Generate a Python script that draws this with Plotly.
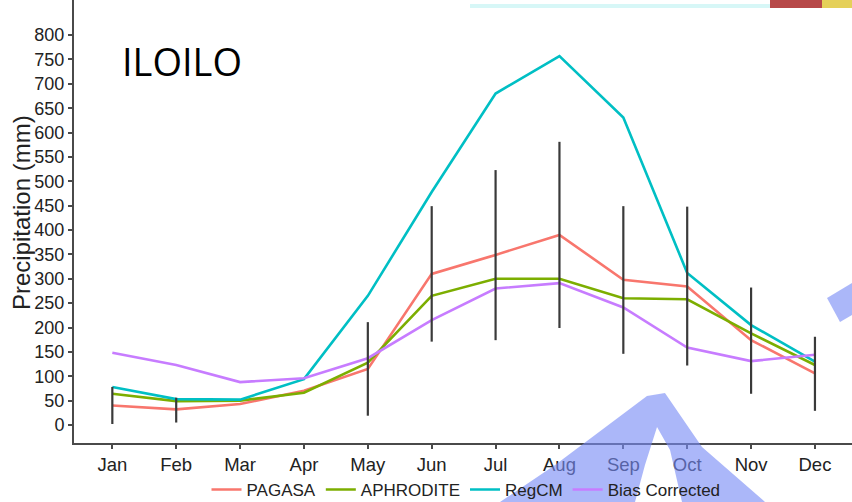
import plotly.graph_objects as go

# Monthly precipitation climatology for Iloilo (mm)
months = ["Jan", "Feb", "Mar", "Apr", "May", "Jun",
          "Jul", "Aug", "Sep", "Oct", "Nov", "Dec"]

pagasa = [40, 32, 43, 70, 115, 310, 349, 390, 298, 284, 174, 106]
aphrodite = [64, 49, 50, 66, 128, 265, 300, 300, 260, 258, 188, 123]
regcm = [78, 53, 52, 94, 265, 478, 680, 757, 631, 312, 205, 130]
bias_corrected = [148, 123, 88, 96, 137, 215, 280, 291, 241, 159, 131, 144]

# Observed range (whiskers) per month
err_low = [2, 5, None, None, 19, 171, 174, 199, 146, 122, 64, 29]
err_high = [78, 56, None, None, 211, 449, 523, 581, 449, 448, 282, 181]

y_ticks = list(range(0, 801, 50))

series = [
    ("PAGASA", pagasa, "#F8766D"),
    ("APHRODITE", aphrodite, "#7CAE00"),
    ("RegCM", regcm, "#00BFC4"),
    ("Bias Corrected", bias_corrected, "#C77CFF"),
]

fig = go.Figure()
for name, vals, col in series:
    fig.add_trace(go.Scatter(
        x=months, y=vals, name=name, mode="lines",
        line=dict(color=col, width=2.6),
    ))

span = [None if lo is None else hi - lo for lo, hi in zip(err_low, err_high)]
fig.add_trace(go.Scatter(
    x=months, y=err_low, mode="markers", showlegend=False,
    marker=dict(color="rgba(0,0,0,0)", size=1),
    error_y=dict(type="data", symmetric=False, array=span,
                 arrayminus=[0 if s is not None else None for s in span],
                 width=0, thickness=2.2, color="#3a3a3a"),
    hoverinfo="skip",
))

# pixel helpers for decorative overlays
L, B, W, H = 74, 443, 778, 443
FIG_W, FIG_H = 852, 502


def px(x, y):
    return ((x - L) / W, (B - y) / H)


def poly(points):
    pts = [px(x, y) for x, y in points]
    return "M " + " L ".join(f"{a:.4f},{b:.4f}" for a, b in pts) + " Z"


wm = "rgba(120,138,245,0.62)"
shapes = [
    dict(type="path", xref="paper", yref="paper", layer="above",
         path=poly([(500, 502), (555, 465), (647, 396), (665, 393),
                    (702, 447), (765, 502), (682, 502), (670, 450),
                    (657, 427), (645, 465), (635, 502)]),
         fillcolor=wm, line=dict(width=0)),
    dict(type="path", xref="paper", yref="paper", layer="above",
         path=poly([(827, 298), (852, 283), (852, 315), (840, 322)]),
         fillcolor=wm, line=dict(width=0)),
    dict(type="rect", xref="paper", yref="paper", layer="above",
         x0=px(470, 0)[0], x1=px(770, 0)[0], y0=px(0, 8)[1], y1=px(0, 4)[1],
         fillcolor="rgba(205,245,245,0.8)", line=dict(width=0)),
    dict(type="rect", xref="paper", yref="paper", layer="above",
         x0=px(770, 0)[0], x1=px(822, 0)[0], y0=px(0, 8)[1], y1=px(0, 0)[1],
         fillcolor="rgba(170,40,40,0.85)", line=dict(width=0)),
    dict(type="rect", xref="paper", yref="paper", layer="above",
         x0=px(822, 0)[0], x1=px(852, 0)[0], y0=px(0, 8)[1], y1=px(0, 0)[1],
         fillcolor="rgba(225,200,60,0.85)", line=dict(width=0)),
]

fig.update_layout(
    width=FIG_W, height=FIG_H,
    margin=dict(l=L, r=0, t=0, b=FIG_H - B, autoexpand=False),
    paper_bgcolor="white", plot_bgcolor="white",
    font=dict(family="Liberation Sans, Arial, sans-serif", size=16, color="#333333"),
    showlegend=True,
    legend=dict(orientation="h", xref="container", yref="container",
                x=466 / FIG_W, xanchor="center",
                y=(FIG_H - 490) / FIG_H, yanchor="middle",
                font=dict(size=17, color="#222222"), itemwidth=30,
                bgcolor="rgba(0,0,0,0)", tracegroupgap=0),
    shapes=shapes,
    annotations=[
        dict(text="ILOILO", xref="paper", yref="paper",
             x=px(120, 0)[0], y=px(0, 61)[1], xanchor="left", yanchor="middle",
             showarrow=False, font=dict(family="Open Sans, sans-serif", size=38, color="#000000")),
        dict(text="Precipitation (mm)", xref="paper", yref="paper",
             x=px(22, 0)[0], y=px(0, 213)[1], textangle=-90,
             xanchor="center", yanchor="middle", showarrow=False,
             font=dict(size=24, color="#222222")),
    ],
)

fig.update_xaxes(
    type="category", categoryorder="array", categoryarray=months,
    range=[-0.6, 11.58], showgrid=False, zeroline=False,
    showline=True, linecolor="#4a4a4a", linewidth=2,
    ticks="outside", ticklen=4, tickcolor="#4a4a4a", tickwidth=1.5,
    tickfont=dict(size=18.5, color="#222222"), automargin=False,
)
fig.update_yaxes(
    range=[-37, 872], tickvals=y_ticks, showgrid=False, zeroline=False,
    showline=True, linecolor="#4a4a4a", linewidth=2,
    ticks="outside", ticklen=4, tickcolor="#4a4a4a", tickwidth=1.5,
    tickfont=dict(size=18, color="#222222"), automargin=False,
)

fig.write_html("out.html")
